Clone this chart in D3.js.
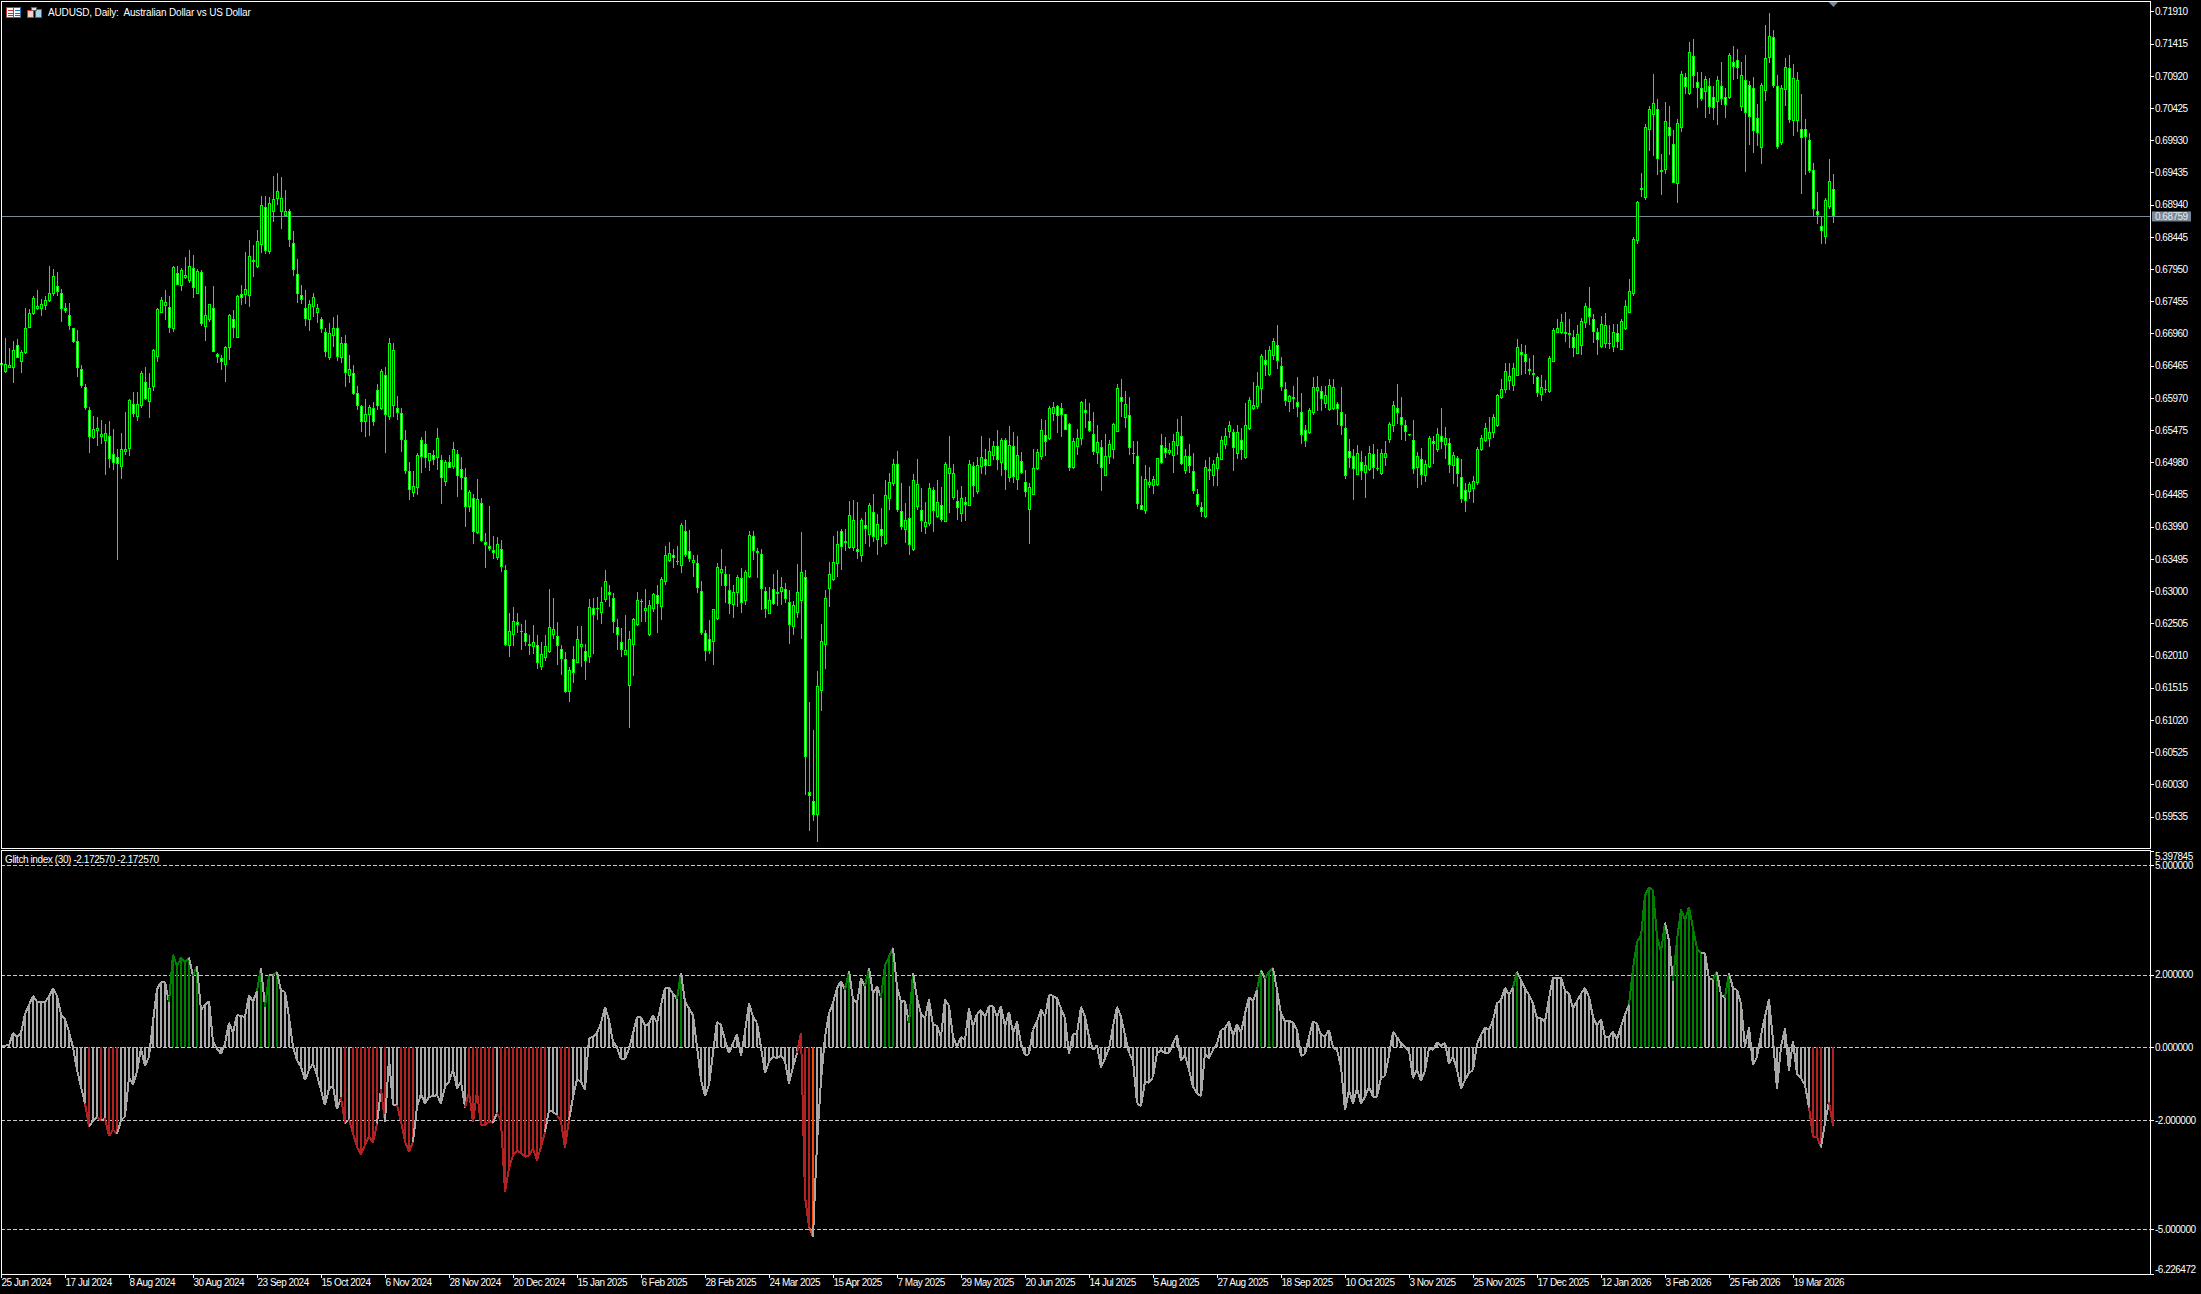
<!DOCTYPE html>
<html>
<head>
<meta charset="utf-8">
<script src="https://cdn.jsdelivr.net/npm/d3@7"></script>
<style>
  html, body { margin: 0; background: #000; overflow: hidden; }
  svg { display: block; }
  text { font-family: "Liberation Sans", Arial, sans-serif; font-size: 10px; letter-spacing: -0.5px; fill: #fff; white-space: pre; }
</style>
</head>
<body>
<div id="chart"></div>
<script>
// all prices in points of 0.0001
const highs = [6650,6689,6673,6685,6688,6671,6735,6733,6754,6763,6749,6754,6800,6795,6791,6765,6743,6743,6705,6702,
6647,6618,6583,6569,6568,6563,6557,6561,6549,6518,6543,6575,6595,6606,6606,6638,6644,6635,6672,6735,
6752,6763,6754,6799,6799,6796,6814,6824,6817,6795,6794,6769,6742,6769,6666,6663,6677,6726,6732,6755,
6770,6821,6840,6832,6855,6908,6908,6906,6938,6943,6937,6917,6888,6854,6810,6771,6763,6748,6759,6742,
6722,6705,6712,6721,6724,6691,6693,6663,6647,6616,6586,6596,6586,6591,6619,6642,6645,6689,6681,6600,
6582,6548,6498,6484,6512,6537,6546,6513,6517,6550,6509,6502,6509,6529,6517,6506,6489,6456,6450,6472,
6443,6389,6431,6384,6383,6379,6340,6266,6275,6267,6249,6256,6233,6248,6233,6222,6232,6303,6289,6253,
6217,6206,6184,6215,6247,6247,6219,6288,6289,6291,6307,6332,6309,6297,6257,6244,6263,6238,6258,6299,
6288,6303,6287,6297,6310,6322,6369,6375,6364,6370,6404,6409,6394,6356,6356,6315,6240,6256,6271,6343,
6365,6339,6327,6309,6325,6336,6332,6392,6392,6367,6364,6307,6306,6326,6332,6321,6313,6302,6285,6342,
6391,6332,6130,6087,6177,6250,6302,6344,6385,6392,6395,6395,6438,6440,6437,6413,6422,6435,6450,6419,
6428,6471,6481,6503,6515,6466,6435,6462,6480,6503,6458,6437,6466,6460,6471,6460,6498,6538,6496,6455,
6462,6445,6502,6499,6506,6538,6518,6535,6531,6548,6535,6536,6554,6544,6538,6514,6486,6466,6519,6518,
6565,6563,6584,6591,6586,6589,6573,6558,6535,6549,6592,6596,6589,6576,6555,6532,6542,6532,6559,6619,
6626,6607,6599,6530,6531,6477,6494,6491,6477,6504,6542,6537,6527,6542,6565,6569,6519,6526,6512,6457,
6437,6502,6506,6501,6513,6538,6550,6561,6549,6555,6550,6589,6599,6621,6637,6665,6671,6677,6689,6709,
6660,6621,6601,6616,6629,6604,6555,6582,6629,6630,6615,6615,6626,6626,6591,6614,6573,6534,6519,6524,
6516,6507,6523,6526,6519,6519,6530,6560,6592,6618,6598,6563,6542,6563,6514,6520,6501,6538,6539,6550,
6581,6552,6535,6514,6507,6503,6466,6468,6477,6522,6540,6559,6567,6572,6603,6626,6650,6650,6651,6687,
6680,6678,6659,6663,6630,6632,6625,6661,6704,6718,6726,6729,6718,6701,6709,6720,6743,6767,6726,6705,
6723,6727,6709,6711,6711,6718,6748,6779,6845,6900,6943,7018,7045,7095,7057,6972,7052,7045,7009,7025,
7100,7096,7144,7149,7098,7098,7092,7088,7076,7092,7113,7074,7127,7138,7133,7114,7124,7084,7091,7049,
7081,7170,7189,7163,7093,7078,7119,7124,7110,7098,7064,7025,7004,6958,6913,6876,6904,6964,6941];

const lows = [6647,6635,6644,6620,6658,6635,6664,6704,6724,6732,6723,6732,6745,6754,6753,6714,6727,6701,6681,6629,
6612,6578,6513,6534,6523,6526,6478,6489,6486,6348,6472,6509,6507,6567,6562,6581,6594,6566,6608,6652,
6727,6717,6697,6699,6770,6762,6779,6773,6751,6757,6708,6685,6714,6667,6650,6640,6621,6655,6689,6690,
6740,6742,6737,6783,6796,6819,6818,6818,6868,6894,6857,6876,6829,6785,6743,6742,6708,6700,6722,6712,
6696,6660,6656,6676,6653,6651,6614,6620,6601,6578,6545,6537,6538,6554,6578,6578,6513,6563,6568,6563,
6514,6480,6440,6444,6448,6482,6489,6484,6494,6486,6434,6461,6489,6487,6444,6456,6399,6421,6373,6388,
6376,6336,6361,6350,6348,6330,6215,6199,6215,6235,6209,6216,6202,6203,6180,6179,6193,6205,6227,6186,
6171,6143,6130,6158,6189,6184,6163,6190,6204,6256,6250,6284,6275,6235,6209,6199,6202,6089,6170,6246,
6253,6253,6231,6268,6235,6255,6310,6344,6335,6340,6328,6352,6344,6322,6297,6232,6193,6203,6186,6256,
6308,6282,6265,6259,6276,6267,6278,6320,6348,6320,6271,6258,6265,6278,6277,6279,6281,6219,6232,6258,
6227,5987,5931,5947,5915,6116,6181,6275,6316,6322,6332,6361,6365,6361,6349,6344,6373,6368,6376,6356,
6368,6371,6425,6462,6422,6394,6374,6356,6361,6425,6391,6388,6400,6391,6413,6406,6406,6420,6440,6409,
6406,6408,6431,6445,6449,6480,6478,6492,6502,6486,6477,6455,6468,6466,6456,6480,6444,6372,6447,6486,
6502,6508,6532,6561,6543,6537,6547,6485,6488,6509,6525,6550,6544,6509,6496,6454,6477,6496,6503,6544,
6568,6550,6509,6495,6426,6424,6419,6458,6449,6462,6496,6504,6509,6482,6509,6494,6480,6482,6450,6429,
6414,6413,6471,6462,6462,6502,6519,6535,6484,6503,6502,6503,6547,6579,6580,6589,6631,6631,6656,6641,
6607,6585,6575,6580,6568,6526,6521,6542,6571,6577,6577,6581,6577,6578,6555,6540,6473,6490,6440,6478,
6471,6443,6485,6472,6485,6478,6492,6528,6545,6557,6532,6531,6538,6480,6459,6463,6467,6490,6496,6514,
6519,6503,6481,6465,6460,6436,6421,6442,6436,6463,6516,6529,6522,6536,6553,6595,6604,6609,6608,6630,
6632,6634,6632,6618,6599,6592,6604,6604,6652,6696,6695,6683,6673,6660,6664,6663,6704,6709,6681,6663,
6673,6673,6672,6668,6673,6670,6702,6728,6754,6834,6906,6901,6977,6969,6940,6909,6941,6970,6927,6897,
7006,7064,7063,7074,7043,7054,7028,7034,7024,7016,7047,7027,7056,7086,7087,7038,6945,6985,6974,6984,
6956,7053,7112,7073,6980,6986,7045,7019,7000,7005,6911,6939,6943,6876,6864,6834,6834,6888,6866];

const bodyTops = [6650,6649,6648,6670,6679,6667,6705,6727,6750,6738,6741,6748,6759,6784,6769,6759,6735,6724,6704,6684,
6642,6613,6579,6549,6550,6542,6543,6538,6510,6506,6518,6519,6593,6588,6587,6635,6622,6612,6670,6733,
6748,6744,6736,6798,6789,6793,6786,6799,6796,6792,6790,6725,6741,6735,6664,6659,6675,6724,6719,6754,
6757,6764,6815,6809,6838,6893,6891,6896,6902,6915,6904,6885,6884,6835,6787,6755,6735,6741,6752,6735,
6718,6698,6696,6705,6704,6682,6681,6641,6635,6604,6584,6573,6583,6581,6609,6639,6632,6681,6670,6582,
6574,6533,6484,6461,6509,6532,6526,6512,6509,6536,6501,6498,6499,6518,6510,6487,6476,6453,6443,6441,
6436,6375,6369,6363,6372,6364,6332,6239,6254,6252,6238,6235,6219,6221,6217,6204,6216,6245,6241,6231,
6211,6195,6178,6195,6227,6219,6208,6275,6274,6274,6284,6315,6298,6290,6245,6221,6210,6226,6257,6286,
6285,6274,6278,6295,6294,6318,6355,6358,6355,6346,6401,6392,6361,6348,6343,6300,6235,6226,6272,6337,
6334,6326,6302,6298,6322,6320,6329,6386,6384,6361,6357,6300,6287,6304,6299,6306,6303,6283,6278,6298,
6329,6321,5991,5978,6154,6224,6290,6327,6345,6372,6392,6377,6417,6409,6364,6410,6402,6433,6422,6403,
6395,6447,6468,6495,6495,6423,6409,6413,6471,6464,6424,6406,6458,6456,6437,6433,6496,6489,6481,6438,
6443,6437,6496,6493,6494,6506,6503,6516,6523,6523,6533,6533,6524,6523,6509,6500,6467,6460,6490,6514,
6547,6540,6581,6583,6585,6581,6572,6557,6530,6535,6591,6578,6561,6541,6529,6521,6508,6526,6557,6612,
6598,6588,6570,6512,6507,6433,6473,6467,6473,6504,6524,6520,6517,6530,6545,6539,6508,6507,6484,6450,
6429,6491,6487,6495,6506,6533,6539,6555,6545,6544,6532,6555,6593,6586,6615,6661,6656,6670,6685,6678,
6646,6610,6600,6599,6591,6576,6547,6578,6613,6613,6608,6602,6617,6613,6587,6576,6551,6516,6507,6513,
6499,6494,6513,6510,6489,6513,6512,6557,6586,6582,6567,6555,6541,6533,6507,6503,6495,6536,6531,6541,
6539,6536,6527,6509,6504,6475,6456,6464,6470,6518,6535,6550,6544,6567,6602,6610,6639,6630,6643,6676,
6668,6664,6641,6636,6629,6613,6610,6658,6702,6705,6713,6698,6696,6690,6695,6715,6739,6735,6719,6698,
6710,6709,6682,6699,6696,6715,6738,6762,6841,6898,6919,7013,7041,7050,7041,6948,7022,7013,6988,7019,
7095,7090,7128,7122,7082,7073,7087,7076,7059,7085,7076,7059,7124,7113,7116,7094,7085,7078,7074,7028,
7078,7119,7153,7151,7076,7073,7105,7104,7088,7085,7010,7010,6994,6948,6885,6861,6901,6930,6918];

const bodyBottoms = [6647,6636,6644,6642,6659,6651,6666,6704,6725,6734,6734,6739,6746,6757,6760,6735,6730,6707,6683,6642,
6616,6580,6537,6535,6545,6537,6530,6503,6496,6496,6490,6514,6518,6573,6567,6584,6596,6591,6613,6659,
6728,6738,6704,6702,6771,6768,6782,6776,6765,6757,6710,6707,6717,6668,6660,6653,6647,6674,6705,6690,
6751,6755,6753,6806,6798,6831,6823,6820,6882,6902,6883,6877,6840,6794,6757,6748,6718,6717,6737,6727,
6703,6667,6658,6693,6659,6659,6635,6630,6603,6584,6560,6560,6571,6559,6585,6580,6571,6567,6584,6575,
6533,6486,6455,6450,6458,6506,6505,6499,6502,6506,6474,6468,6490,6490,6476,6473,6430,6430,6391,6389,
6378,6370,6364,6359,6350,6336,6217,6216,6232,6248,6237,6221,6216,6213,6189,6184,6198,6206,6232,6216,
6196,6144,6144,6174,6190,6214,6192,6198,6264,6272,6267,6286,6294,6253,6232,6209,6202,6153,6217,6248,
6284,6270,6232,6272,6280,6275,6313,6345,6351,6345,6338,6355,6348,6344,6305,6236,6208,6208,6221,6257,
6328,6307,6280,6278,6298,6282,6284,6321,6361,6358,6303,6272,6266,6281,6296,6298,6288,6247,6244,6266,
6284,6044,5985,5957,5955,6147,6218,6304,6317,6341,6368,6374,6367,6366,6359,6355,6396,6387,6384,6379,
6384,6371,6442,6464,6425,6398,6394,6371,6363,6428,6407,6399,6402,6424,6414,6410,6407,6480,6442,6427,
6418,6433,6432,6462,6453,6491,6493,6493,6508,6501,6498,6487,6473,6476,6471,6481,6451,6425,6448,6488,
6506,6530,6533,6572,6570,6571,6548,6490,6488,6521,6534,6573,6545,6514,6512,6488,6478,6506,6517,6544,
6590,6566,6520,6510,6433,6425,6424,6462,6463,6463,6497,6513,6513,6507,6524,6496,6485,6491,6454,6433,
6421,6414,6484,6476,6487,6503,6525,6544,6520,6510,6517,6505,6548,6580,6582,6611,6649,6632,6662,6653,
6613,6591,6591,6596,6584,6541,6530,6542,6573,6607,6596,6588,6578,6579,6580,6554,6477,6505,6487,6479,
6485,6482,6487,6488,6487,6481,6504,6533,6554,6574,6554,6545,6539,6488,6488,6479,6477,6491,6527,6516,
6530,6525,6493,6492,6479,6441,6439,6451,6457,6465,6516,6530,6534,6542,6554,6596,6610,6623,6616,6631,
6663,6651,6638,6633,6605,6601,6608,6606,6653,6697,6696,6695,6693,6673,6665,6676,6713,6721,6699,6686,
6674,6680,6680,6676,6682,6671,6703,6728,6756,6838,6916,6904,7009,7032,6964,6945,6946,6999,6928,6925,
7012,7075,7063,7091,7073,7056,7067,7043,7042,7051,7056,7046,7058,7106,7103,7045,7034,7029,7008,7005,
6981,7068,7119,7076,6982,6988,7070,7024,7022,7022,6996,6998,6946,6888,6879,6853,6844,6890,6876];

const downBars = [4,14,15,16,17,18,19,20,21,22,27,28,29,33,36,42,44,48,50,53,54,55,58,60,66,72,73,74,75,76,80,81,84,86,88,89,90,93,94,96,
99,100,101,102,105,106,108,110,112,114,115,116,118,120,121,122,123,125,126,129,131,132,134,139,140,141,143,146,148,152,153,154,155,164,168,
171,172,174,175,176,177,181,182,185,188,189,190,191,193,196,197,201,202,203,210,214,216,218,220,224,225,227,230,233,235,239,241,243,246,249,
251,253,255,256,261,264,265,266,267,271,272,273,275,280,282,283,284,285,290,291,295,297,298,299,300,302,308,310,316,319,320,321,324,325,326,
330,334,335,336,337,338,340,343,344,349,350,351,352,353,355,358,360,362,364,365,366,380,381,382,383,384,386,391,393,397,398,399,402,404,410,
414,415,417,418,421,423,424,425,427,428,430,431,433,434,436,437,438,439,443,444,447,450,451,452,453,454,455,458];

const glitch = [.01,.05,.06,.40,.29,.40,.92,1.16,1.42,1.25,1.25,1.25,1.39,1.63,1.41,.91,.77,.43,0,-.62,
-1.08,-1.54,-2.18,-2.01,-1.92,-2.01,-1.95,-2.44,-2.25,-2.38,-2.01,-1.90,-.81,-1.02,-.67,-.03,-.51,-.26,.71,1.60,
1.80,1.80,1.24,2.55,2.23,2.47,2.35,2.47,1.96,2.24,1.03,1.16,1.27,.16,-.03,-.18,.11,.68,.40,.90,
.86,.84,1.44,1.25,1.56,2.19,1.12,1.99,1.99,2.07,1.56,1.53,.84,.02,-.35,-.53,-.90,-.62,-.44,-.76,
-1.17,-1.59,-1.13,-1.06,-1.70,-1.37,-2.09,-1.98,-2.36,-2.73,-2.94,-2.68,-2.44,-2.62,-2.09,-1.15,-2.04,-.30,-1.58,-1.58,
-2.04,-2.59,-2.87,-2.59,-1.63,-1.28,-1.54,-1.36,-1.34,-1.31,-1.54,-1.08,-.94,-.60,-1.13,-.94,-1.65,-1.22,-2.06,-1.22,
-2.13,-2.13,-2.04,-2.07,-1.79,-2.04,-3.97,-3.32,-2.96,-2.84,-2.89,-3.00,-2.99,-2.77,-3.11,-2.73,-2.32,-1.72,-1.77,-1.86,
-2.04,-2.75,-2.00,-1.36,-.88,-.94,-1.17,.25,.29,.40,.66,1.12,.75,.16,0,-.32,-.32,-.03,.38,.84,
.84,.59,.66,.89,.68,1.16,1.64,1.64,1.48,1.33,2.05,1.25,1.07,.89,.02,-.90,-1.33,-1.03,-.16,.71,
.61,.20,-.16,.11,.37,-.24,.43,1.21,.84,.68,0,-.70,-.39,-.26,-.30,-.21,-.39,-.99,-.53,-.16,
.40,-4.10,-4.93,-5.20,-2.64,-.90,.29,.93,1.23,1.62,1.83,1.58,2.11,1.32,1.21,1.90,1.68,2.19,1.48,1.69,
1.37,2.26,2.49,2.74,1.67,1.25,1.28,.66,2.05,1.35,.92,.80,1.32,.61,.60,.29,1.32,1.14,.29,.02,
.29,.20,1.07,.57,.92,1.03,.84,1.14,1.14,.82,1.14,.57,.98,.40,.71,.11,-.21,-.19,.49,.71,
1.04,.84,1.44,1.42,1.35,1.07,.80,-.18,.37,.38,1.12,.84,.29,-.07,.06,-.55,-.30,-.03,.57,1.12,
.84,.34,-.16,-.35,-1.54,-1.61,-.94,-.97,-.82,-.16,-.09,-.16,-.16,.11,.34,-.37,-.21,-.62,-1.08,-1.26,
-1.34,-.16,-.30,-.07,.11,.48,.52,.72,.31,.64,.40,.93,1.37,1.28,1.58,2.12,1.90,2.08,2.19,1.58,
.93,.71,.73,.68,.48,-.24,-.18,.29,.71,.66,.34,.31,.48,0,-.07,-.53,-1.72,-1.17,-1.54,-1.13,
-1.54,-1.36,-1.08,-1.36,-1.36,-.82,-.79,-.21,.43,.29,.11,0,-.09,-.85,-.60,-.92,-.64,-.03,-.07,.14,
.04,.13,-.46,-.24,-.62,-1.13,-.90,-.70,-.62,.09,.34,.54,.48,.75,1.21,1.30,1.64,1.44,1.65,2.08,
1.85,1.62,1.44,1.21,.80,.80,.71,1.35,1.92,1.92,1.92,1.56,1.48,1.07,1.28,1.47,1.64,1.39,.84,.60,
.78,.29,.29,.43,.22,.57,.89,1.18,2.17,2.90,3.06,4.18,4.39,4.32,3.04,2.63,3.43,2.93,1.83,2.95,
3.79,3.50,3.86,3.27,2.72,2.60,2.60,1.87,1.87,2.08,1.44,1.37,2.05,1.62,1.58,1.21,.02,.55,-.49,-.26,
.34,.84,1.32,.20,-1.13,.02,.52,-.64,.18,-.73,-.85,-1.03,-1.65,-2.45,-2.45,-2.75,-2.09,-1.49,-2.17];

const greenBars = [43,44,45,46,47,49,65,67,69,170,212,217,221,222,223,228,315,317,318,379,408,409,410,411,412,413,414,415,416,419,420,421,422,423,424,425,429,432];
const redBars = [22,25,27,28,29,86,88,89,90,91,92,93,94,96,100,101,102,103,117,118,119,120,121,122,123,125,126,127,128,129,130,131,132,133,134,135,136,140,141,142,200,201,202,453,454,455,458];
const orangeBars = [203];

const dateLabels = ["25 Jun 2024","17 Jul 2024","8 Aug 2024","30 Aug 2024","23 Sep 2024","15 Oct 2024","6 Nov 2024","28 Nov 2024","20 Dec 2024",
  "15 Jan 2025","6 Feb 2025","28 Feb 2025","24 Mar 2025","15 Apr 2025","7 May 2025","29 May 2025","20 Jun 2025","14 Jul 2025","5 Aug 2025",
  "27 Aug 2025","18 Sep 2025","10 Oct 2025","3 Nov 2025","25 Nov 2025","17 Dec 2025","12 Jan 2026","3 Feb 2026","25 Feb 2026","19 Mar 2026"];
const priceTicks = d3.range(0, 26).map(k => 0.7191 - k * 0.00495);
const levels = [5, 2, 0, -2, -5];
const lastPrice = 0.68759;

const width = 2201, height = 1294;
const pane = { left: 1, right: 2150, top: 1, bottom: 848, top2: 851, bottom2: 1274 };

const svg = d3.select("#chart").append("svg").attr("width", width).attr("height", height);

const xScale = d3.scaleLinear().domain([0, 458]).range([1, 1833]);
const yPrice = d3.scaleLinear().domain([0.59051, 0.72071]).range([pane.bottom, pane.top]);
const yGlitch = d3.scaleLinear().domain([-6.226472, 5.397845]).range([pane.bottom2, pane.top2]);
const pt = v => yPrice(v / 10000);

// current price line
svg.append("line")
  .attr("x1", pane.left).attr("x2", pane.right)
  .attr("y1", Math.round(yPrice(lastPrice)) + 0.5).attr("y2", Math.round(yPrice(lastPrice)) + 0.5)
  .attr("stroke", "#778899").attr("shape-rendering", "crispEdges");

// candles
const bars = d3.range(highs.length);
const candles = svg.append("g").attr("shape-rendering", "crispEdges");

candles.selectAll(".wick").data(bars).enter().append("rect")
  .attr("x", i => xScale(i))
  .attr("width", 1)
  .attr("y", i => pt(highs[i]))
  .attr("height", i => Math.max(1, pt(lows[i]) - pt(highs[i])))
  .attr("fill", "#00ff00");

candles.selectAll(".body").data(bars).enter().append("rect")
  .attr("x", i => xScale(i) - 1)
  .attr("width", 3)
  .attr("y", i => Math.round(pt(bodyTops[i])))
  .attr("height", i => Math.max(1, Math.round(pt(bodyBottoms[i]) - pt(bodyTops[i]))))
  .attr("fill", "#00ff00");

candles.selectAll(".inner").data(bars).enter().append("rect")
  .attr("x", i => xScale(i))
  .attr("width", 1)
  .attr("y", i => Math.round(pt(bodyTops[i])) + 1)
  .attr("height", i => Math.max(0, Math.round(pt(bodyBottoms[i]) - pt(bodyTops[i])) - 2))
  .attr("fill", i => downBars.includes(i) ? "#ffffff" : "#000000");

// indicator levels
svg.append("g").selectAll("line").data(levels).enter().append("line")
  .attr("x1", pane.left).attr("x2", pane.right)
  .attr("y1", d => Math.round(yGlitch(d)) + 0.5).attr("y2", d => Math.round(yGlitch(d)) + 0.5)
  .attr("stroke", "#c8c8c8")
  .attr("stroke-dasharray", "4,2")
  .attr("shape-rendering", "crispEdges");

// indicator histogram and line
const barColor = i => {
  if (orangeBars.includes(i)) return "#ff4500";
  if (redBars.includes(i)) return "#b22222";
  if (greenBars.includes(i)) return "#008000";
  return "#a9a9a9";
};
const glitchG = svg.append("g").attr("shape-rendering", "crispEdges").attr("stroke-width", 2);

glitchG.selectAll(".hist").data(bars).enter().append("line")
  .attr("x1", i => xScale(i)).attr("x2", i => xScale(i))
  .attr("y1", yGlitch(0)).attr("y2", i => yGlitch(glitch[i]))
  .attr("stroke", barColor);

glitchG.selectAll(".seg").data(bars.slice(1)).enter().append("line")
  .attr("x1", i => xScale(i - 1)).attr("x2", i => xScale(i))
  .attr("y1", i => yGlitch(glitch[i - 1])).attr("y2", i => yGlitch(glitch[i]))
  .attr("stroke", barColor);

// frames
const frames = svg.append("g").attr("fill", "none").attr("stroke", "#fff").attr("shape-rendering", "crispEdges");
frames.append("rect").attr("x", pane.left + 0.5).attr("y", pane.top + 0.5)
  .attr("width", pane.right - pane.left).attr("height", pane.bottom - pane.top);
frames.append("rect").attr("x", pane.left + 0.5).attr("y", pane.top2 - 0.5)
  .attr("width", pane.right - pane.left).attr("height", pane.bottom2 - pane.top2 + 0.5);

// axes
const priceAxis = d3.axisRight(yPrice).tickValues(priceTicks).tickFormat(d3.format(".5f")).tickSize(4).tickPadding(1);
const priceG = svg.append("g").attr("transform", `translate(${pane.right},0)`).call(priceAxis);
priceG.select(".domain").remove();

const glitchAxis = d3.axisRight(yGlitch)
  .tickValues([5.397845, ...levels, -6.226472])
  .tickFormat(d => d.toFixed(6))
  .tickSize(4).tickPadding(1);
const glitchAxisG = svg.append("g").attr("transform", `translate(${pane.right},0)`).call(glitchAxis);
glitchAxisG.select(".domain").remove();
glitchAxisG.selectAll(".tick text")
  .attr("y", d => d > 5.2 ? 5 : (d < -6 ? -5 : 0));

const dateScale = d3.scalePoint().domain(dateLabels).range([xScale(0), xScale(16 * (dateLabels.length - 1))]);
const dateAxis = d3.axisBottom(dateScale).tickSize(4).tickPadding(1);
const dateG = svg.append("g").attr("transform", `translate(0,${pane.bottom2})`).call(dateAxis);
dateG.select(".domain").remove();
dateG.selectAll(".tick text").attr("text-anchor", "start").attr("x", 0);

svg.selectAll(".tick line").attr("stroke", "#fff").attr("shape-rendering", "crispEdges");
svg.selectAll(".tick text").attr("font-family", null).attr("font-size", null).attr("fill", "#fff");

// price tag
const tagY = yPrice(lastPrice);
svg.append("rect").attr("x", 2152).attr("y", tagY - 5).attr("width", 39).attr("height", 10).attr("fill", "#778899");
svg.append("text").attr("x", 2155).attr("y", tagY).attr("dy", ".32em").style("fill", "#e8e8e8").text(lastPrice.toFixed(5));

// shift marker
svg.append("path")
  .attr("d", d3.line()([[xScale(458) - 4.5, 2], [xScale(458) + 5, 2], [xScale(458) + 0.5, 7]]))
  .attr("fill", "#778899");

// titles
svg.append("text").attr("x", 48).attr("y", 16).style("letter-spacing", "-0.15px").text("AUDUSD, Daily:  Australian Dollar vs US Dollar");
svg.append("text").attr("x", 5).attr("y", 863).style("letter-spacing", "-0.4px").text("Glitch index (30) -2.172570 -2.172570");

// small toolbar icons
const icons = svg.append("g").attr("shape-rendering", "crispEdges");
icons.append("rect").attr("x", 6.5).attr("y", 7.5).attr("width", 14).attr("height", 10).attr("fill", "#fff").attr("stroke", "#c0392b");
icons.append("rect").attr("x", 13.5).attr("y", 7.5).attr("width", 7).attr("height", 10).attr("fill", "#fff").attr("stroke", "#1f6fb2");
[10, 13, 15].forEach(y0 => {
  icons.append("rect").attr("x", 8).attr("y", y0).attr("width", 5).attr("height", 1).attr("fill", "#c0392b");
  icons.append("rect").attr("x", 15).attr("y", y0).attr("width", 5).attr("height", 1).attr("fill", "#1f6fb2");
});
icons.append("rect").attr("x", 27.5).attr("y", 10.5).attr("width", 6).attr("height", 7).attr("fill", "#f8d0c8").attr("stroke", "#c0392b");
icons.append("rect").attr("x", 35.5).attr("y", 9.5).attr("width", 6).attr("height", 8).attr("fill", "#a8d4f0").attr("stroke", "#1f6fb2");
icons.append("rect").attr("x", 31.5).attr("y", 7.5).attr("width", 5).attr("height", 3).attr("fill", "#ddd").attr("stroke", "#666");
</script>
</body>
</html>
